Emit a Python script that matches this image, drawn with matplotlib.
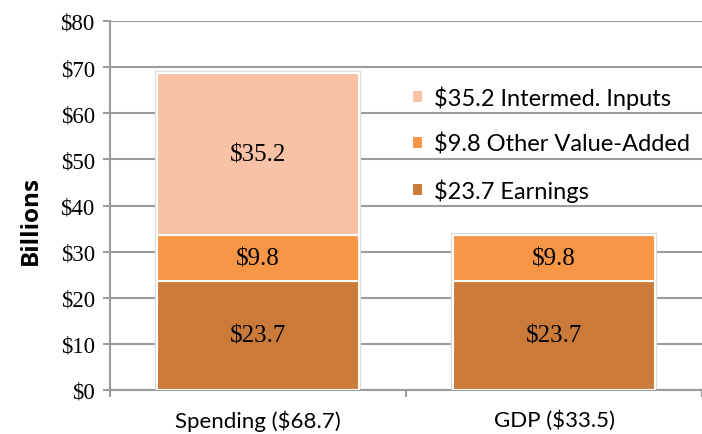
"""Stacked bar chart: spending vs GDP breakdown (billions)."""

import matplotlib
matplotlib.use("Agg")
import matplotlib.pyplot as plt
import numpy as np

CATEGORIES = ["Spending ($68.7)", "GDP ($33.5)"]
EARNINGS = [23.7, 23.7]
OTHER_VA = [9.8, 9.8]
INTERMED = [35.2, 0.0]
SERIES_NAMES = ["$23.7 Earnings", "$9.8 Other Value-Added", "$35.2 Intermed. Inputs"]
COLORS = ["#CC7A39", "#F79646", "#F9C1A6"]
Y_TICKS = [0, 10, 20, 30, 40, 50, 60, 70, 80]

GRID = "#9C9C9C"
SERIF = ["Liberation Serif", "DejaVu Serif"]
SANS = ["Lato", "DejaVu Sans"]

fig = plt.figure(figsize=(7.02, 4.35), dpi=100)
ax = fig.add_axes([110 / 702, 1 - 391 / 435, 1 - 110 / 702, (391 - 22) / 435])

x = np.arange(len(CATEGORIES))
width = 0.683
series = [np.array(s) for s in (EARNINGS, OTHER_VA, INTERMED)]
totals = sum(series)

# faint shadow outline around each stack
ax.bar(x, totals, width, color="none", edgecolor="#DADADA", linewidth=3, zorder=2)

bottom = np.zeros(len(CATEGORIES))
for vals, name, color in zip(series, SERIES_NAMES, COLORS):
    ax.bar(x, vals, width, bottom=bottom, color=color, edgecolor="white",
           linewidth=1.5, label=name, zorder=3)
    for xi, b, v in zip(x, bottom, vals):
        if v > 0:
            ax.text(xi, b + v / 2, f"${v:.1f}", ha="center", va="center",
                    fontsize=18, family=SERIF, zorder=4)
    bottom = bottom + vals

ax.set_ylim(0, 80)
ax.set_xlim(-0.5, 1.454)
ax.set_yticks(Y_TICKS)
ax.set_yticklabels([f"${t}" for t in Y_TICKS], family=SERIF, fontsize=16.5)
ax.yaxis.grid(True, color=GRID, linewidth=1.5, zorder=0)
ax.set_axisbelow(True)

# category labels in the middle, tick marks on the boundaries
ax.set_xticks(x)
ax.set_xticklabels(CATEGORIES, family=SANS, fontsize=16)
ax.tick_params(axis="x", length=0, pad=14)
ax.set_xticks([-0.5, 0.5, 1.5], minor=True)
ax.tick_params(axis="x", which="minor", length=5, width=1.5, color=GRID)
ax.tick_params(axis="y", length=5, width=1.5, color=GRID, pad=6)

for side in ["top", "right"]:
    ax.spines[side].set_visible(False)
for side in ["left", "bottom"]:
    ax.spines[side].set_color(GRID)
    ax.spines[side].set_linewidth(1.5)

ax.set_ylabel("Billions", fontsize=17.5, fontweight="bold",
              family=["Open Sans", "DejaVu Sans"], labelpad=13)
ax.yaxis.label.set_y(0.463)

handles, labels = ax.get_legend_handles_labels()
ax.legend(handles[::-1], labels[::-1], loc="upper left", bbox_to_anchor=(0.51, 0.826),
          frameon=False, prop={"family": SANS, "size": 17}, handlelength=0.47,
          handleheight=0.47, handletextpad=0.45, labelspacing=1.02,
          borderpad=0, borderaxespad=0)

fig.savefig("out.png", dpi=100)
